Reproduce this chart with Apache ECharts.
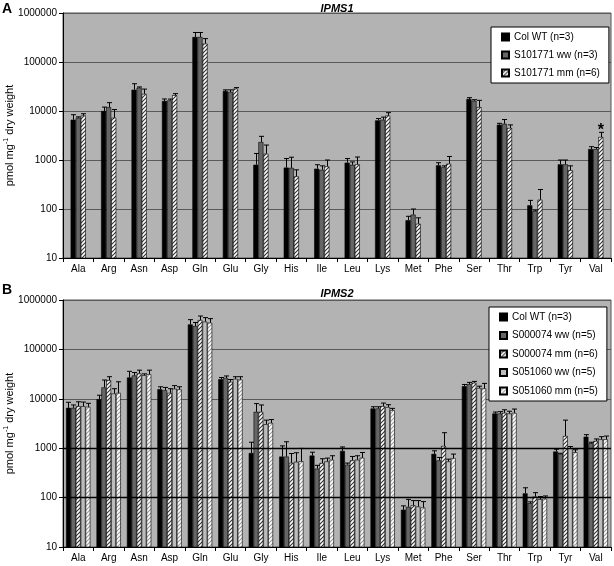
<!DOCTYPE html>
<html><head><meta charset="utf-8">
<script src="https://cdn.jsdelivr.net/npm/echarts@6/dist/echarts.min.js"></script>
<style>html,body{margin:0;padding:0;background:#fff;}#c{width:614px;height:566px;}</style>
</head><body><div id="c"></div>
<script>
const categories = ['Ala','Arg','Asn','Asp','Gln','Glu','Gly','His','Ile','Leu','Lys','Met','Phe','Ser','Thr','Trp','Tyr','Val'];
const yTicks = [10, 100, 1000, 10000, 100000, 1000000];

// Panel A (IPMS1)
const namesA = ['Col WT (n=3)', 'S101771 ww (n=3)', 'S101771 mm (n=6)'];
const aColWT      = [6650, 10000, 27200, 16000, 324000, 25600, 800, 700, 665, 883, 6450, 59, 780, 17600, 5260, 119, 815, 1675];
const aColWTErr   = [8400, 12000, 36000, 17600, 400000, 27000, 1360, 1070, 800, 1070, 7000, 71, 880, 18700, 5600, 150, 1000, 1870];
const aWW         = [7300, 12000, 30000, 16500, 324000, 24500, 2330, 690, 630, 800, 6650, 77, 720, 16200, 5500, 91, 815, 1675];
const aWWErr      = [7600, 14800, 31000, 17500, 400000, 27000, 3040, 1140, 760, 913, 7500, 100, 760, 17000, 6700, 95, 1000, 1800];
const aMM         = [8100, 7300, 22400, 21000, 237000, 28600, 1345, 464, 740, 815, 8100, 50, 840, 12000, 4500, 155, 620, 2950];
const aMMErr      = [8800, 10700, 28000, 22600, 300000, 30000, 2020, 630, 1000, 1150, 9250, 66, 1180, 16500, 5200, 250, 760, 3670];
const aStarIndex = 17;

// Panel B (IPMS2)
const namesB = ['Col WT (n=3)', 'S000074 ww (n=5)', 'S000074 mm (n=6)', 'S051060 ww (n=5)', 'S051060 mm (n=5)'];
const bColWT    = [6570, 9850, 27000, 15700, 321000, 25000, 800, 678, 711, 880, 6370, 57, 770, 18000, 5050, 122, 858, 1710];
const bColWTErr = [8500, 11800, 36000, 17500, 400000, 27000, 1320, 1115, 830, 1060, 6900, 68, 885, 19500, 5400, 158, 955, 1880];
const b74WW     = [6570, 17000, 29700, 15000, 297000, 26500, 5450, 678, 386, 464, 6370, 65, 567, 19800, 5050, 77, 770, 1260];
const b74WWErr  = [7500, 24000, 34000, 17000, 350000, 29000, 8000, 1350, 450, 500, 6900, 92, 650, 21500, 5500, 82, 790, 1320];
const b74MM     = [7100, 23900, 32600, 13200, 393000, 22100, 5450, 505, 500, 567, 7100, 70, 1110, 21100, 5200, 105, 1766, 1400];
const b74MMErr  = [8700, 28000, 38000, 16000, 474000, 24600, 7500, 780, 612, 681, 8200, 87, 2060, 22500, 6000, 126, 3700, 1540];
const b60WW     = [7100, 12800, 30000, 16000, 365000, 25400, 3060, 530, 541, 584, 6800, 66, 541, 16600, 5050, 93, 1000, 1515];
const b60WWErr  = [8600, 16000, 32000, 18500, 440000, 28000, 3700, 810, 630, 703, 7600, 87, 600, 18000, 5600, 105, 1080, 1710];
const b60MM     = [6900, 13200, 31600, 15500, 347000, 24600, 3250, 545, 584, 641, 5900, 63, 631, 16200, 5200, 95, 830, 1515];
const b60MMErr  = [8100, 22100, 38000, 17500, 420000, 28000, 3800, 990, 703, 819, 6400, 83, 760, 20500, 6200, 108, 930, 1760];

const FONT = '"Liberation Sans", Arial, sans-serif';

function hatch(lineColor, bg) {
  const c = document.createElement('canvas');
  c.width = 4; c.height = 4;
  const g = c.getContext('2d');
  g.fillStyle = bg; g.fillRect(0, 0, 4, 4);
  g.strokeStyle = lineColor; g.lineWidth = 1.1;
  g.beginPath();
  g.moveTo(0, 4); g.lineTo(4, 0);
  g.moveTo(-1, 1); g.lineTo(1, -1);
  g.moveTo(3, 5); g.lineTo(5, 3);
  g.stroke();
  return { image: c, repeat: 'repeat' };
}
const hatchDark = hatch('#333333', '#ffffff');
const hatchLight = hatch('#9a9a9a', '#ffffff');

function barSeries(name, axisIdx, data, color, gap) {
  return {
    name: name, type: 'bar', xAxisIndex: axisIdx, yAxisIndex: axisIdx,
    data: data, barGap: '0%', barCategoryGap: gap,
    itemStyle: { color: color, borderColor: '#000', borderWidth: 0.6 },
    emphasis: { disabled: true }, animation: false
  };
}
function errSeries(axisIdx, vals, errs, idx, n, gapFrac) {
  return {
    name: 'err' + axisIdx + '_' + idx, type: 'custom', xAxisIndex: axisIdx, yAxisIndex: axisIdx,
    z: 5, animation: false, silent: true,
    data: vals.map((v, i) => [i, v, errs[i]]),
    renderItem: function (params, api) {
      const i = api.value(0);
      const p0 = api.coord([i, api.value(1)]);
      const p1 = api.coord([i, api.value(2)]);
      const band = api.size([1, 0], [i, api.value(1)])[0];
      const bw = band * (1 - gapFrac) / n;
      const x = Math.round(p0[0] + (idx - (n - 1) / 2) * bw) + 0.5;
      return { type: 'group', children: [
        { type: 'line', shape: { x1: x, y1: p0[1], x2: x, y2: p1[1] }, style: { stroke: '#000', lineWidth: 1 } },
        { type: 'line', shape: { x1: x - 2.5, y1: p1[1], x2: x + 2.5, y2: p1[1] }, style: { stroke: '#000', lineWidth: 1 } }
      ]};
    }
  };
}

function xAx(gi) {
  return {
    type: 'category', gridIndex: gi, data: categories, boundaryGap: true,
    axisLine: { show: true, lineStyle: { color: '#000', width: 1 } },
    axisTick: { show: true, length: 4, alignWithLabel: false, lineStyle: { color: '#000' } },
    axisLabel: { color: '#000', fontSize: 10, fontFamily: FONT, margin: 6, interval: 0 },
    splitLine: { show: false }
  };
}
function yAx(gi) {
  return {
    type: 'log', logBase: 10, gridIndex: gi, min: 10, max: 1000000,
    name: 'pmol mg{sup|-1} dry weight', nameLocation: 'middle', nameGap: 46, nameRotate: 90,
    nameMoveOverlap: false,
    nameTextStyle: { color: '#000', fontSize: 11, fontFamily: FONT, lineHeight: 14,
      rich: { sup: { fontSize: 7, fontFamily: FONT, color: '#000', verticalAlign: 'top', lineHeight: 14 } } },
    axisLine: { show: true, lineStyle: { color: '#000', width: 1 } },
    axisTick: { show: true, length: 4, lineStyle: { color: '#000' } },
    axisLabel: { color: '#000', fontSize: 10, fontFamily: FONT, margin: 6,
      formatter: v => String(Math.round(v)) },
    splitLine: { show: true, lineStyle: { color: '#5a5a5a', width: 1 } }
  };
}
function legend(names, left, top, gap) {
  return {
    data: names, orient: 'vertical', left: left, top: top,
    backgroundColor: '#fff', borderColor: '#000', borderWidth: 1, borderRadius: 0,
    padding: [4, 9, 4, 10], itemGap: gap, itemWidth: 7, itemHeight: 7, icon: 'rect',
    selectedMode: false,
    textStyle: { color: '#000', fontSize: 10, fontFamily: FONT, lineHeight: 12 }
  };
}

const seriesA = [
  barSeries(namesA[0], 0, aColWT, '#000000', '50%'),
  barSeries(namesA[1], 0, aWW, '#666666', '50%'),
  barSeries(namesA[2], 0, aMM.map((v, i) => i === aStarIndex ? {
    value: v, label: { show: true, position: 'top', formatter: '*', fontSize: 16, fontWeight: 'bold',
      fontFamily: FONT, color: '#000', distance: -2, lineHeight: 16 } } : v), hatchDark, '50%'),
  errSeries(0, aColWT, aColWTErr, 0, 3, 0.5),
  errSeries(0, aWW, aWWErr, 1, 3, 0.5),
  errSeries(0, aMM, aMMErr, 2, 3, 0.5)
];
const b1 = barSeries(namesB[0], 1, bColWT, '#000000', '20%');
b1.markLine = { silent: true, symbol: 'none', animation: false, label: { show: false },
  lineStyle: { color: '#000', width: 1.3, type: 'solid' },
  data: [{ yAxis: 100 }, { yAxis: 1000 }] };
const seriesB = [
  b1,
  barSeries(namesB[1], 1, b74WW, '#666666', '20%'),
  barSeries(namesB[2], 1, b74MM, hatchDark, '20%'),
  barSeries(namesB[3], 1, b60WW, '#bcbcbc', '20%'),
  barSeries(namesB[4], 1, b60MM, hatchLight, '20%'),
  errSeries(1, bColWT, bColWTErr, 0, 5, 0.2),
  errSeries(1, b74WW, b74WWErr, 1, 5, 0.2),
  errSeries(1, b74MM, b74MMErr, 2, 5, 0.2),
  errSeries(1, b60WW, b60WWErr, 3, 5, 0.2),
  errSeries(1, b60MM, b60MMErr, 4, 5, 0.2)
];

const chart = echarts.init(document.getElementById('c'), null, { renderer: 'canvas' });
chart.setOption({
  animation: false,
  backgroundColor: '#ffffff',
  grid: [
    { left: 63, right: 3, top: 13, height: 245, show: true, backgroundColor: '#b3b3b3', borderColor: '#555', borderWidth: 1,
      containLabel: false, outerBoundsMode: 'none' },
    { left: 63, right: 3, top: 300, height: 247, show: true, backgroundColor: '#b3b3b3', borderColor: '#555', borderWidth: 1,
      containLabel: false, outerBoundsMode: 'none' }
  ],
  xAxis: [xAx(0), xAx(1)],
  yAxis: [yAx(0), yAx(1)],
  legend: [legend(namesA, 491, 27, 6), legend(namesB, 489, 307, 6.5)],
  graphic: [
    { type: 'text', left: 2, top: 2, style: { text: 'A', font: 'bold 14px ' + FONT, fill: '#000' } },
    { type: 'text', left: 2, top: 283, style: { text: 'B', font: 'bold 14px ' + FONT, fill: '#000' } },
    { type: 'text', x: 337, y: 3, style: { text: 'IPMS1', font: 'italic bold 11px ' + FONT, fill: '#000', textAlign: 'center' } },
    { type: 'text', x: 337, y: 288, style: { text: 'IPMS2', font: 'italic bold 11px ' + FONT, fill: '#000', textAlign: 'center' } }
  ],
  series: seriesA.concat(seriesB)
});
</script></body></html>
